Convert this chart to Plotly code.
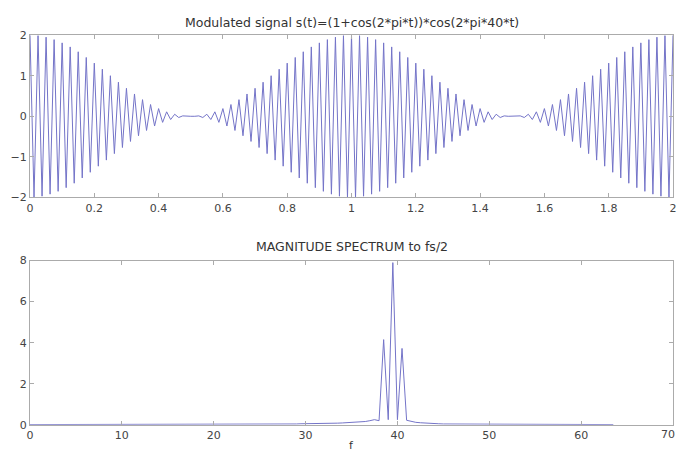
import numpy as np
import plotly.graph_objects as go
from plotly.subplots import make_subplots

# ---- Data ----
# Top: modulated signal, extremes of each carrier half-cycle over 0..2 s
signal_peaks = [
    2.00, -2.00, 1.99, -1.97, 1.95, -1.92, 1.89, -1.85, 1.81, -1.76,
    1.71, -1.65, 1.59, -1.52, 1.45, -1.38, 1.31, -1.23, 1.16, -1.08,
    1.00, -0.92, 0.84, -0.77, 0.69, -0.62, 0.55, -0.48, 0.41, -0.35,
    0.29, -0.24, 0.19, -0.15, 0.11, -0.08, 0.05, -0.03, 0.01, -0.00,
    0.00, -0.00, 0.01, -0.03, 0.05, -0.08, 0.11, -0.15, 0.19, -0.24,
    0.29, -0.35, 0.41, -0.48, 0.55, -0.62, 0.69, -0.77, 0.84, -0.92,
    1.00, -1.08, 1.16, -1.23, 1.31, -1.38, 1.45, -1.52, 1.59, -1.65,
    1.71, -1.76, 1.81, -1.85, 1.89, -1.92, 1.95, -1.97, 1.99, -2.00,
    2.00, -2.00, 1.99, -1.97, 1.95, -1.92, 1.89, -1.85, 1.81, -1.76,
    1.71, -1.65, 1.59, -1.52, 1.45, -1.38, 1.31, -1.23, 1.16, -1.08,
    1.00, -0.92, 0.84, -0.77, 0.69, -0.62, 0.55, -0.48, 0.41, -0.35,
    0.29, -0.24, 0.19, -0.15, 0.11, -0.08, 0.05, -0.03, 0.01, -0.00,
    0.00, -0.00, 0.01, -0.03, 0.05, -0.08, 0.11, -0.15, 0.19, -0.24,
    0.29, -0.35, 0.41, -0.48, 0.55, -0.62, 0.69, -0.77, 0.84, -0.92,
    1.00, -1.08, 1.16, -1.23, 1.31, -1.38, 1.45, -1.52, 1.59, -1.65,
    1.71, -1.76, 1.81, -1.85, 1.89, -1.92, 1.95, -1.97, 1.99, -2.00,
    2.00,
]
t_start, t_end = 0.0, 2.0

# Bottom: magnitude spectrum, 0..63.5 Hz in 0.5 Hz steps
spectrum_mag = [
    0.01, 0.01, 0.01, 0.01, 0.01, 0.01, 0.01, 0.01, 0.01, 0.01,   # 0-4.5
    0.01, 0.01, 0.01, 0.01, 0.01, 0.01, 0.01, 0.01, 0.01, 0.01,   # 5-9.5
    0.01, 0.01, 0.01, 0.01, 0.01, 0.01, 0.01, 0.01, 0.01, 0.01,   # 10-14.5
    0.01, 0.01, 0.01, 0.01, 0.01, 0.01, 0.01, 0.01, 0.01, 0.01,   # 15-19.5
    0.01, 0.01, 0.01, 0.01, 0.01, 0.01, 0.01, 0.01, 0.01, 0.01,   # 20-24.5
    0.02, 0.02, 0.02, 0.03, 0.03, 0.03, 0.04, 0.04, 0.04, 0.05,   # 25-29.5
    0.05, 0.05, 0.06, 0.06, 0.06, 0.07, 0.07, 0.08, 0.09, 0.10,   # 30-34.5
    0.11, 0.12, 0.14, 0.16, 0.20, 0.25, 0.20, 4.15, 0.25, 7.90,   # 35-39.5 (cont.)
    0.25, 3.72, 0.22, 0.16, 0.12, 0.10, 0.08, 0.07, 0.06, 0.05,   # 40-44.5
    0.04, 0.04, 0.03, 0.03, 0.02, 0.02, 0.02, 0.01, 0.01, 0.01,   # 45-49.5
    0.01, 0.01, 0.01, 0.01, 0.01, 0.01, 0.01, 0.01, 0.01, 0.01,   # 50-54.5
    0.01, 0.01, 0.01, 0.01, 0.01, 0.01, 0.01, 0.01, 0.01, 0.01,   # 55-59.5
    0.01, 0.01, 0.01, 0.01, 0.01, 0.01, 0.01, 0.01,               # 60-63.5
]
f_step = 0.5

title_top = "Modulated signal s(t)=(1+cos(2*pi*t))*cos(2*pi*40*t)"
title_bottom = "MAGNITUDE SPECTRUM to fs/2"
xlabel_bottom = "f"

top_xticks = [0, 0.2, 0.4, 0.6, 0.8, 1, 1.2, 1.4, 1.6, 1.8, 2]
top_yticks = [-2, -1, 0, 1, 2]
bot_xticks = [0, 10, 20, 30, 40, 50, 60, 70]
bot_yticks = [0, 2, 4, 6, 8]

# ---- Figure ----
t_vals = np.linspace(t_start, t_end, len(signal_peaks))
f_vals = np.arange(len(spectrum_mag)) * f_step

line_color = "#7474c8"
W, H = 678, 459
FONT = "DejaVu Sans, Liberation Sans, Arial"
tick_font = dict(family=FONT, size=11, color="#444444")

fig = make_subplots(rows=2, cols=1)
fig.add_trace(go.Scatter(x=t_vals, y=signal_peaks, mode="lines",
                         line=dict(color=line_color, width=1)), row=1, col=1)
fig.add_trace(go.Scatter(x=f_vals, y=spectrum_mag, mode="lines",
                         line=dict(color=line_color, width=1)), row=2, col=1)

axis_common = dict(showgrid=False, zeroline=False, showline=True,
                   linecolor="#ababab", linewidth=1, mirror="ticks",
                   ticks="inside", ticklen=4, tickcolor="#ababab",
                   tickfont=tick_font)

annotations = [
    dict(text=title_top, x=0.5, y=1 - 17 / H, xref="paper", yref="paper",
         xanchor="center", yanchor="middle", showarrow=False,
         font=dict(family=FONT, size=12.5, color="#333333")),
    dict(text=title_bottom, x=0.5, y=1 - 247 / H, xref="paper", yref="paper",
         xanchor="center", yanchor="middle", showarrow=False,
         font=dict(family=FONT, size=12.5, color="#333333")),
    dict(text=xlabel_bottom, x=0.5, y=1 - 452 / H, xref="paper", yref="paper",
         xanchor="center", yanchor="middle", showarrow=False,
         font=dict(family=FONT, size=11, color="#333333")),
    # last x tick label of the spectrum axis, kept inside the page edge
    dict(text=str(bot_xticks[-1]), x=1 + 4 / 643, y=1 - 441 / H, xref="paper", yref="paper",
         xanchor="right", yanchor="middle", showarrow=False, font=tick_font),
]

fig.update_layout(
    width=W, height=H, showlegend=False,
    paper_bgcolor="white", plot_bgcolor="white",
    margin=dict(l=30, r=5, t=0, b=0),
    xaxis=dict(domain=[0, 1], range=[0, 2], tickvals=top_xticks,
               ticktext=[("%g" % v) for v in top_xticks], **axis_common),
    yaxis=dict(domain=[1 - 197 / H, 1 - 30 / H], range=[-2, 2], tickvals=top_yticks, **axis_common),
    xaxis2=dict(domain=[0, 1], range=[0, 70], tickvals=bot_xticks[:-1], **axis_common),
    yaxis2=dict(domain=[1 - 431 / H, 1 - 262 / H], range=[0, 8], tickvals=bot_yticks, **axis_common),
    annotations=annotations,
)

fig.write_html("out.html")
